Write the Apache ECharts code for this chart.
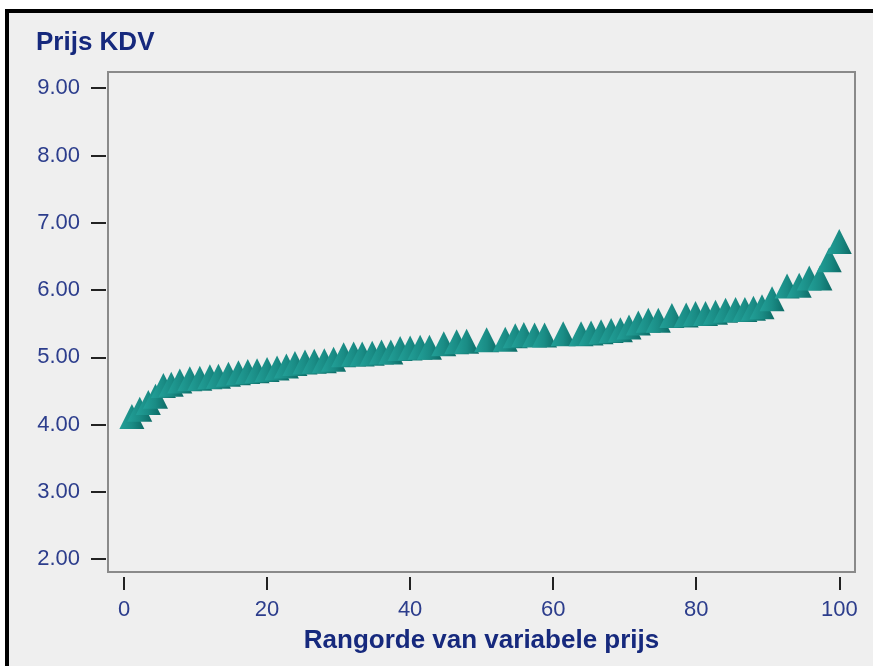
<!DOCTYPE html>
<html>
<head>
<meta charset="utf-8">
<script src="https://cdn.jsdelivr.net/npm/echarts@6/dist/echarts.min.js"></script>
<style>
  html, body { margin: 0; padding: 0; background: #ffffff; }
  .frame {
    position: absolute; left: 5px; top: 9px; right: 0; bottom: 0;
    border-left: 4px solid #000; border-top: 4px solid #000;
    background: #efefef;
  }
  #chart { position: absolute; left: 0; top: 0; width: 873px; height: 666px; }
</style>
</head>
<body>
<div class="frame"></div>
<div id="chart"></div>
<script>
// rang (x) en prijs (y)
const ranks = [
  1.1, 2.2, 3.4, 4.4, 5.5, 6.6, 7.8, 9.2, 10.6, 12.0,
  13.2, 14.6, 16.0, 17.3, 18.6, 20.0, 21.4, 22.7, 23.9, 25.3,
  26.6, 28.0, 29.3, 30.7, 32.1, 33.3, 34.7, 36.0, 37.3, 38.6,
  40.0, 41.4, 42.7, 44.7, 46.5, 47.9, 50.7, 53.3, 54.7, 55.9,
  57.4, 58.8, 61.4, 63.9, 65.3, 66.7, 68.1, 69.4, 70.6, 71.9,
  73.3, 74.7, 76.6, 78.6, 79.9, 81.3, 82.7, 84.1, 85.5, 86.8,
  88.0, 89.2, 90.6, 92.7, 94.4, 95.8, 97.3, 98.6, 100.0
]
const prices = [
  4.12, 4.23, 4.33, 4.42, 4.58, 4.60, 4.65, 4.68, 4.69, 4.71,
  4.72, 4.75, 4.77, 4.79, 4.80, 4.82, 4.84, 4.87, 4.91, 4.93,
  4.94, 4.95, 4.97, 5.04, 5.05, 5.05, 5.06, 5.08, 5.08, 5.13,
  5.14, 5.15, 5.15, 5.20, 5.23, 5.24, 5.26, 5.27, 5.32, 5.34,
  5.33, 5.33, 5.35, 5.35, 5.36, 5.38, 5.40, 5.41, 5.45, 5.51,
  5.55, 5.55, 5.62, 5.63, 5.65, 5.65, 5.67, 5.70, 5.71, 5.71,
  5.73, 5.75, 5.87, 6.06, 6.07, 6.18, 6.18, 6.45, 6.72
]
const xTicks = [0, 20, 40, 60, 80, 100]
const yTicks = [2, 3, 4, 5, 6, 7, 8, 9]

const myChart = echarts.init(document.getElementById('chart'))

const labelStyle = {
  color: '#2c3d8c',
  fontFamily: 'Liberation Sans, Arial, sans-serif',
  fontSize: 22
}

const option = {
  backgroundColor: 'transparent',
  animation: false,
  title: {
    text: 'Prijs KDV',
    left: 31,
    top: 25,
    textStyle: {
      color: '#16297d',
      fontFamily: 'Liberation Sans, Arial, sans-serif',
      fontWeight: 'bold',
      fontSize: 26
    }
  },
  grid: {
    left: 108,
    right: 18,
    top: 72,
    bottom: 94,
    show: true,
    backgroundColor: 'transparent',
    borderColor: '#8a8a8a',
    borderWidth: 2
  },
  xAxis: {
    type: 'value',
    min: -2.24,
    max: 102.2,
    offset: 5,
    name: 'Rangorde van variabele prijs',
    nameLocation: 'middle',
    nameGap: 51,
    nameTextStyle: {
      color: '#16297d',
      fontFamily: 'Liberation Sans, Arial, sans-serif',
      fontWeight: 'bold',
      fontSize: 26
    },
    axisLine: { show: false, onZero: false },
    axisTick: {
      show: true,
      inside: false,
      length: 13,
      customValues: xTicks,
      lineStyle: { color: '#222', width: 2 }
    },
    axisLabel: Object.assign({ margin: 22, customValues: xTicks }, labelStyle),
    splitLine: { show: false }
  },
  yAxis: {
    type: 'value',
    min: 1.81,
    max: 9.24,
    offset: 2,
    axisLine: { show: false, onZero: false },
    axisTick: {
      show: true,
      inside: false,
      length: 15,
      customValues: yTicks,
      lineStyle: { color: '#222', width: 2 }
    },
    axisLabel: Object.assign({
      margin: 26,
      customValues: yTicks,
      formatter: (v) => v.toFixed(2)
    }, labelStyle),
    splitLine: { show: false }
  },
  series: [
    {
      type: 'scatter',
      symbol: 'triangle',
      symbolSize: [25, 25],
      data: ranks.map((r, i) => [r, prices[i]]),
      itemStyle: {
        color: {
          type: 'linear', x: 0, y: 0, x2: 1, y2: 0,
          colorStops: [
            { offset: 0, color: '#22a098' },
            { offset: 0.5, color: '#1a8c85' },
            { offset: 1, color: '#0d6a65' }
          ]
        },
        opacity: 1
      }
    }
  ]
}

myChart.setOption(option)
</script>
</body>
</html>
